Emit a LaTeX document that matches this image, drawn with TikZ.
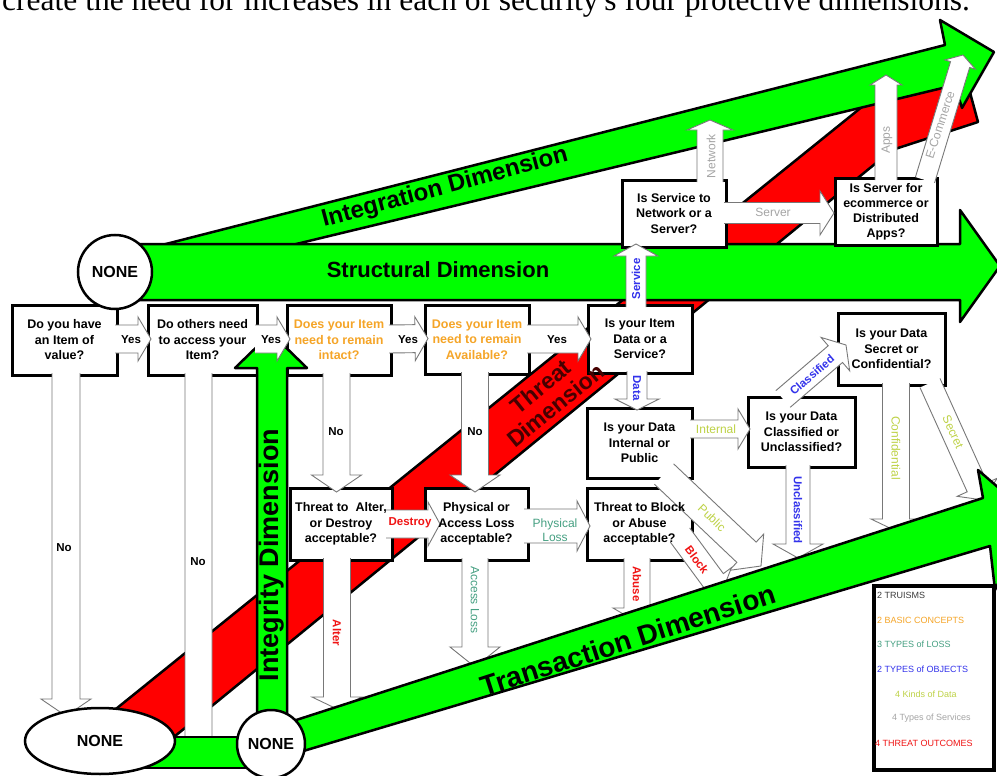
\documentclass[tikz,border=0pt]{standalone}
\usepackage{fontspec}
\setmainfont{Liberation Sans}
\newfontfamily\serifx{Liberation Serif}
\usetikzlibrary{calc,shapes.geometric}
\definecolor{gband}{RGB}{0,255,0}
\definecolor{rband}{RGB}{255,0,0}
\definecolor{torange}{RGB}{245,165,40}
\definecolor{tblue}{RGB}{50,50,235}
\definecolor{tolive}{RGB}{190,210,70}
\definecolor{tteal}{RGB}{70,160,130}
\definecolor{tgray}{RGB}{165,165,165}
\definecolor{tred}{RGB}{240,20,20}
\definecolor{agray}{RGB}{120,120,120}
\definecolor{tdark}{RGB}{70,0,0}
\definecolor{tdgray}{RGB}{60,60,60}
\pgfdeclarelayer{bands}
\pgfdeclarelayer{frames}
\pgfdeclarelayer{arrows}
\pgfdeclarelayer{over}
\pgfsetlayers{bands,frames,arrows,over,main}
\tikzset{
  band/.style={fill=gband, draw=black, line width=2.5pt, line join=round},
  redband/.style={fill=rband, draw=black, line width=2.5pt, line join=round},
  qbox/.style={inner sep=0pt, outer sep=0pt, align=center, font=\bfseries\fontsize{12.5}{15.5}\selectfont},
  frame/.style={draw=black, fill=white, line width=3pt},
  warfill/.style={fill=white},
  warline/.style={draw=agray, line width=0.9pt},
  lblb/.style={font=\bfseries\fontsize{11.5}{13}\selectfont, inner sep=0pt},
  lblr/.style={font=\fontsize{12}{14}\selectfont, inner sep=0pt},
  legend/.style={anchor=west, font=\fontsize{9}{10}\selectfont, inner sep=0pt},
  nonenode/.style={draw=black, fill=white, line width=2.5pt, inner sep=0pt, font=\bfseries\fontsize{16}{18}\selectfont},
}
\newcommand\warrow[5]{%
  \coordinate (wA) at (#1);
  \coordinate (wB) at (#2);
  \coordinate (wC) at ($(wB)!#5pt!(wA)$);
  \coordinate (w1) at ($(wA)!#3pt!90:(wB)$);
  \coordinate (w2) at ($(wC)!#3pt!90:(wB)$);
  \coordinate (w3) at ($(wC)!#4pt!90:(wB)$);
  \coordinate (w5) at ($(wC)!#4pt!-90:(wB)$);
  \coordinate (w6) at ($(wC)!#3pt!-90:(wB)$);
  \coordinate (w7) at ($(wA)!#3pt!-90:(wB)$);
  \fill[warfill] (w1) -- (w2) -- (w3) -- (wB) -- (w5) -- (w6) -- (w7) -- cycle;
  \draw[warline] (w1) -- (w2) -- (w3) -- (wB) -- (w5) -- (w6) -- (w7);
}
\begin{document}
\begin{tikzpicture}[x=1pt,y=-1pt]
\useasboundingbox (0,0) rectangle (997,776);

% ---------- bands ----------
\begin{pgfonlayer}{bands}
\fill[white] (0,0) rectangle (997,776);
\draw[redband] (75,742) -- (925,56) -- (958,48) -- (978,122) -- (892,150) -- (158,750) -- cycle;
\draw[band] (158,246) -- (945,45) -- (940,20) -- (994,52) -- (962,108) -- (955,85) -- (288,246) -- cycle;
\draw[band] (118,244) -- (960,244) -- (960,210) -- (1000,266) -- (960,322) -- (960,300) -- (118,300) -- cycle;
\end{pgfonlayer}

% ---------- question boxes (text) ----------
\node[qbox, minimum width=105pt, minimum height=70pt] (b1) at (64.5,340) {Do you have\\an Item of\\value?};
\node[qbox, minimum width=109pt, minimum height=70pt] (b2) at (202.5,340) {Do others need\\to access your\\Item?};
\node[qbox, text=torange, minimum width=104pt, minimum height=70pt] (b3) at (339,340) {Does your Item\\need to remain\\intact?};
\node[qbox, text=torange, minimum width=104pt, minimum height=69pt] (b4) at (477,339.5) {Does your Item\\need to remain\\Available?};
\node[qbox, minimum width=104pt, minimum height=68pt] (b5) at (640,339) {Is your Item\\Data or a\\Service?};
\node[qbox, minimum width=102pt, minimum height=72pt] (b6) at (341,524) {Threat to~ Alter,\\or Destroy\\acceptable?};
\node[qbox, minimum width=103pt, minimum height=72pt] (b7) at (476.5,524) {Physical or\\Access Loss\\acceptable?};
\node[qbox, minimum width=105pt, minimum height=72pt] (b8) at (639.5,524) {Threat to Block\\or Abuse\\acceptable?};
\node[qbox, minimum width=105pt, minimum height=70pt] (b9) at (639.5,443) {Is your Data\\Internal or\\Public};
\node[qbox, minimum width=107pt, minimum height=70pt] (b10) at (801.5,432) {Is your Data\\Classified or\\Unclassified?};
\node[qbox, minimum width=107pt, minimum height=72pt] (b11) at (891.5,349) {Is your Data\\Secret or\\Confidential?};
\node[qbox, minimum width=104pt, minimum height=67pt] (b12) at (674,213.5) {Is Service to\\Network or a\\Server?};
\node[qbox, minimum width=102pt, minimum height=67pt, font=\bfseries\fontsize{12.5}{15}\selectfont] (b13) at (886,211.5) {Is Server for\\ecommerce or\\Distributed\\Apps?};

\begin{pgfonlayer}{frames}
\foreach \bx in {b1,b2,b3,b4,b5,b6,b7,b8,b9,b10,b11,b12,b13}
  \draw[frame] (\bx.south west) rectangle (\bx.north east);
\end{pgfonlayer}

% ---------- arrows ----------
\begin{pgfonlayer}{arrows}
\draw[band] (257,750) -- (257,368) -- (235,368) -- (271,333) -- (307,368) -- (287,368) -- (287,750) -- cycle;
\warrow{$(b1.east)+(-2,-1)$}{$(b2.west)+(3,-1)$}{14}{22}{13}
\warrow{$(b2.east)+(-2,-1)$}{$(b3.west)+(3,-1)$}{14}{22}{13}
\warrow{$(b3.east)+(-2,-1)$}{$(b4.west)+(3,-1)$}{14}{22}{13}
\warrow{$(b4.east)+(-2,-0.5)$}{$(b5.west)+(3,0)$}{14}{22}{13}
\coordinate (t1) at (66,716);
\warrow{$(b1.south)+(1.5,-2)$}{t1}{14}{25}{17}
\coordinate (t2) at (198.5,765);
\warrow{$(b2.south)+(-4,-2)$}{t2}{13.5}{26}{18}
\warrow{$(b3.south)+(-2.5,-2)$}{$(b6.north)+(-4.5,4)$}{13.5}{25}{17}
\warrow{$(b4.south)+(-2,-2)$}{$(b7.north)+(-1.5,4)$}{13.5}{25}{17}
\warrow{$(b5.north)+(-4,2)$}{$(b12.south)+(-38,-3)$}{10}{22}{12}
\warrow{$(b5.south)+(-3,-2)$}{$(b9.north)+(-2.5,2)$}{10}{22}{11}
\warrow{$(b9.east)+(-2,-14)$}{$(b10.west)+(2,-3)$}{9}{20}{12}
\warrow{$(b10.north)+(-18.5,2)$}{$(b11.south west)+(8,-40)$}{11}{22}{14}
\coordinate (t3) at (798,558);
\warrow{$(b10.south)+(-3.5,-2)$}{t3}{12}{25}{14}
\coordinate (t4) at (896,531);
\warrow{$(b11.south)+(4.5,-2)$}{t4}{13.5}{25}{12}
\coordinate (t5) at (983,500);
\warrow{$(b11.south)+(38.5,-2)$}{t5}{11}{22}{14}
\coordinate (t6) at (761,566);
\warrow{$(b9.south)+(24.5,-4)$}{t6}{14}{25}{20}
\coordinate (t7) at (722,592);
\warrow{$(b8.east)+(-12,11)$}{t7}{12}{22}{14}
\warrow{$(b6.east)+(-6,0)$}{$(b7.west)+(15,0)$}{14}{22}{12}
\warrow{$(b7.east)+(-4,2)$}{$(b8.west)+(3,2)$}{17}{25}{13}
\coordinate (t8) at (337,709);
\warrow{$(b6.south)+(-4,-2)$}{t8}{13.5}{25}{12}
\coordinate (t9) at (475,667);
\warrow{$(b7.south)+(-1.5,-2)$}{t9}{13}{25}{20}
\coordinate (t10) at (637,622);
\warrow{$(b8.south)+(-2.5,-2)$}{t10}{13}{24}{14}
\warrow{$(b12.east)+(-2,-0.5)$}{$(b13.west)+(-1,1.5)$}{10.5}{22}{14}
\coordinate (t11) at (710,120);
\warrow{$(b12.north)+(36,2)$}{t11}{13}{23}{10}
\coordinate (t12) at (886,75);
\warrow{$(b13.north)+(0,2)$}{t12}{11}{16}{10}
\coordinate (t13) at (963,55);
\warrow{$(b13.north)+(39,2)$}{t13}{10}{16}{10}
\end{pgfonlayer}

% ---------- transaction band, bottom bar ----------
\begin{pgfonlayer}{over}
\draw[band] (290,722) -- (983,498) -- (978,470) -- (1030,515) -- (995,590) -- (990,546) -- (290,755) -- cycle;
\draw[band] (140,737) rectangle (250,768);
\end{pgfonlayer}

% ---------- caption (cut off at top) ----------
\node[anchor=base west, inner sep=0pt, font=\serifx\fontsize{31.5}{34}\selectfont] (cap) at (2,11) {create the need for increases in each of security's four protective dimensions.};

% ---------- dimension labels ----------
\node[inner sep=0pt, font=\bfseries\fontsize{22}{24}\selectfont] (sd) at (438,270) {Structural Dimension};
\node[inner sep=0pt, rotate=15, font=\bfseries\fontsize{24}{26}\selectfont] (intd) at (445,188) {Integration Dimension};
\node[inner sep=0pt, rotate=17.9, font=\bfseries\fontsize{28}{30}\selectfont] (trd) at (628,640) {Transaction Dimension};
\node[inner sep=0pt, rotate=90, font=\bfseries\fontsize{27}{29}\selectfont] (gtd) at (272,555) {Integrity Dimension};
\node[inner sep=0pt, rotate=39, align=center, text=tdark, font=\bfseries\fontsize{23}{24}\selectfont] (thd) at (548,396) {Threat\\Dimension};

% ---------- arrow labels ----------
\node[lblb] (ly1) at (131,340) {Yes};
\node[lblb] (ly2) at (271,340) {Yes};
\node[lblb] (ly3) at (408,340) {Yes};
\node[lblb] (ly4) at (557,340) {Yes};
\node[lblb] (ln1) at (64,548) {No};
\node[lblb] (ln2) at (198,562) {No};
\node[lblb] (ln3) at (336,432) {No};
\node[lblb] (ln4) at (475,432) {No};
\node[lblb, text=tblue, rotate=90] (lsv) at (636,279) {Service};
\node[lblb, text=tblue, rotate=-90] (ldt) at (637,388) {Data};
\node[lblr, text=tolive] (lin) at (716,429) {Internal};
\node[lblb, text=tblue, rotate=40.7] (lcl) at (812,375) {Classified};
\node[lblb, text=tblue, rotate=-90] (luc) at (798,510) {Unclassified};
\node[lblr, text=tolive, rotate=-90] (lcf) at (896,448) {Confidential};
\node[lblr, text=tolive, rotate=-65.6] (lsc) at (953,432) {Secret};
\node[lblr, text=tolive, rotate=-43.5] (lpb) at (712,518) {Public};
\node[lblb, text=tred, rotate=-53.6] (lbk) at (697,560) {Block};
\node[lblb, text=tred] (lds) at (410,523) {Destroy};
\node[lblr, text=tteal, align=center, font=\fontsize{12}{14}\selectfont] (lph) at (555,530) {Physical\\Loss};
\node[lblb, text=tred, rotate=-90] (lal) at (337,633) {Alter};
\node[lblr, text=tteal, rotate=-90] (lac) at (475,600) {Access Loss};
\node[lblb, text=tred, rotate=-90] (lab) at (637,584) {Abuse};
\node[lblr, text=tgray] (lsr) at (773,212) {Server};
\node[lblr, text=tgray, rotate=90] (lnw) at (711,156) {Network};
\node[lblr, text=tgray, rotate=90] (lap) at (887,140) {Apps};
\node[lblr, text=tgray, rotate=72] (lec) at (940,125) {E-Commerce};

% ---------- NONE nodes ----------
\node[nonenode, circle, minimum size=74pt] (none1) at (115,272) {NONE};
\node[nonenode, ellipse, minimum width=150pt, minimum height=66pt] (none2) at (100,741) {NONE};
\node[nonenode, circle, minimum size=68pt] (none3) at (271,744) {NONE};

% ---------- legend ----------
\node[draw=black, line width=3.5pt, fill=white, minimum width=120pt, minimum height=184pt, inner sep=0pt] (lg) at (934,678) {};
\node[legend, text=tdgray] (lg1) at (877,595) {2 TRUISMS};
\node[legend, text=torange] (lg2) at (877,620) {2 BASIC CONCEPTS};
\node[legend, text=tteal] (lg3) at (877,644) {3 TYPES of LOSS};
\node[legend, text=tblue] (lg4) at (877,669) {2 TYPES of OBJECTS};
\node[legend, text=tolive] (lg5) at (895,694) {4 Kinds of Data};
\node[legend, text=tgray] (lg6) at (892,718) {4 Types of Services};
\node[legend, text=tred] (lg7) at (875,743) {4 THREAT OUTCOMES};
\end{tikzpicture}
\end{document}
